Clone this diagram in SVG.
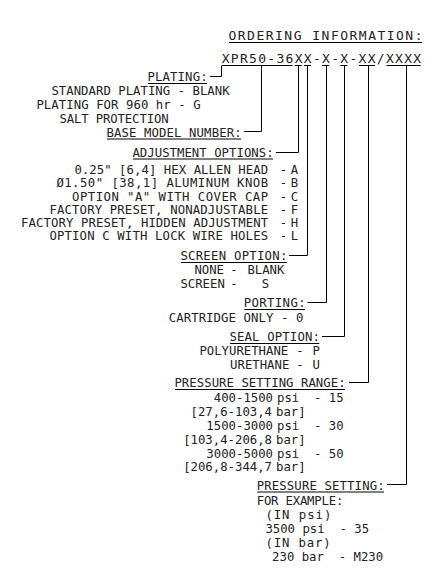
<svg xmlns="http://www.w3.org/2000/svg" width="448" height="586" viewBox="0 0 448 586" xml:space="preserve">
<style>
.t{font-family:"DejaVu Sans Mono","Liberation Mono",monospace;font-size:12.3px;fill:#222;white-space:pre}
.big{font-size:13px}
.m{text-anchor:middle}
.e{text-anchor:end}
.ln{stroke:#000;stroke-width:1;fill:none}
</style>
<rect width="448" height="586" fill="#fff"/>
<g id="title">
<text class="t big" x="228.5" y="39.5" textLength="194" lengthAdjust="spacing">ORDERING INFORMATION:</text>
<line class="ln" x1="229" y1="42.5" x2="422" y2="42.5"/>
</g>
<g id="model-code">
<text class="t big" x="221.7" y="63" style="letter-spacing:1.3px">XPR50-36XX-X-X-XX/XXXX</text>
<path class="ln" d="M222 65.5H292.6M294.7 65.5H301.7M303.8 65.5H310.8M322.1 65.5H329.1M340.3 65.5H347.4M359 65.5H375.1M386.4 65.5H420.7"/>
</g>
<g id="plating">
<text class="t" x="147.4" y="81" textLength="60.2" lengthAdjust="spacing">PLATING:</text>
<line class="ln" x1="148" y1="83.5" x2="207" y2="83.5"/>
<text class="t" x="51.4" y="95" textLength="178.2" lengthAdjust="spacing">STANDARD PLATING - BLANK</text>
<text class="t" x="36.4" y="108.5" textLength="164.2" lengthAdjust="spacing">PLATING FOR 960 hr - G</text>
<text class="t" x="59.4" y="122.5" textLength="109.2" lengthAdjust="spacing">SALT PROTECTION</text>
</g>
<g id="base-model">
<text class="t" x="106.4" y="136.5" textLength="135.2" lengthAdjust="spacing">BASE MODEL NUMBER:</text>
<line class="ln" x1="107" y1="139" x2="241" y2="139"/>
</g>
<g id="adjustment">
<text class="t" x="132.4" y="156.5" textLength="141.2" lengthAdjust="spacing">ADJUSTMENT OPTIONS:</text>
<line class="ln" x1="133" y1="159" x2="273" y2="159"/>
<text class="t" x="74.4" y="173.5" textLength="193.7" lengthAdjust="spacing">0.25" [6,4] HEX ALLEN HEAD</text>
<text class="t" x="56.4" y="187" textLength="211.7" lengthAdjust="spacing">Ø1.50" [38,1] ALUMINUM KNOB</text>
<text class="t" x="72.1" y="200.5" textLength="196" lengthAdjust="spacing">OPTION "A" WITH COVER CAP</text>
<text class="t" x="49.4" y="213.5" textLength="218.7" lengthAdjust="spacing">FACTORY PRESET, NONADJUSTABLE</text>
<text class="t" x="21.1" y="226.5" textLength="247" lengthAdjust="spacing">FACTORY PRESET, HIDDEN ADJUSTMENT</text>
<text class="t" x="49.4" y="239.5" textLength="218.7" lengthAdjust="spacing">OPTION C WITH LOCK WIRE HOLES</text>
<text class="t m" x="283.5" y="173.5">-</text><text class="t m" x="294.5" y="173.5">A</text>
<text class="t m" x="283.5" y="187">-</text><text class="t m" x="294.5" y="187">B</text>
<text class="t m" x="283.5" y="200.5">-</text><text class="t m" x="294.5" y="200.5">C</text>
<text class="t m" x="283.5" y="213.5">-</text><text class="t m" x="294.5" y="213.5">F</text>
<text class="t m" x="283.5" y="226.5">-</text><text class="t m" x="294.5" y="226.5">H</text>
<text class="t m" x="283.5" y="239.5">-</text><text class="t m" x="294.5" y="239.5">L</text>
</g>
<g id="screen">
<text class="t" x="180.4" y="260" textLength="106.9" lengthAdjust="spacing">SCREEN OPTION:</text>
<line class="ln" x1="181" y1="262.5" x2="286.7" y2="262.5"/>
<text class="t" x="194.4" y="273.5">NONE</text><text class="t m" x="234" y="273.5">-</text><text class="t" x="247.4" y="273.5">BLANK</text>
<text class="t" x="180.4" y="287.5">SCREEN</text><text class="t m" x="234" y="287.5">-</text><text class="t m" x="265.5" y="287.5">S</text>
</g>
<g id="porting">
<text class="t" x="243.7" y="307" textLength="61.9" lengthAdjust="spacing">PORTING:</text>
<line class="ln" x1="244.3" y1="309.5" x2="305" y2="309.5"/>
<text class="t" x="168.7" y="321.5" textLength="134.6" lengthAdjust="spacing">CARTRIDGE ONLY - 0</text>
</g>
<g id="seal">
<text class="t" x="229.4" y="341" textLength="90.5" lengthAdjust="spacing">SEAL OPTION:</text>
<line class="ln" x1="230" y1="343.5" x2="319.3" y2="343.5"/>
<text class="t" x="199.4" y="354.5">POLYURETHANE</text><text class="t m" x="300" y="354.5">-</text><text class="t m" x="316.3" y="354.5">P</text>
<text class="t" x="230.1" y="368.5">URETHANE</text><text class="t m" x="300" y="368.5">-</text><text class="t m" x="316.3" y="368.5">U</text>
</g>
<g id="pressure-range">
<text class="t" x="174.4" y="387" textLength="171.2" lengthAdjust="spacing">PRESSURE SETTING RANGE:</text>
<line class="ln" x1="175" y1="389.5" x2="345" y2="389.5"/>
<text class="t e" x="273" y="401.5">400-1500</text><text class="t" x="277" y="401.5">psi  - 15</text>
<text class="t e" x="272" y="415.5">[27,6-103,4</text><text class="t" x="276" y="415.5">bar]</text>
<text class="t e" x="273" y="429.5">1500-3000</text><text class="t" x="277" y="429.5">psi  - 30</text>
<text class="t e" x="272" y="443.5">[103,4-206,8</text><text class="t" x="276" y="443.5">bar]</text>
<text class="t e" x="273" y="457.5">3000-5000</text><text class="t" x="277" y="457.5">psi  - 50</text>
<text class="t e" x="272" y="470.5">[206,8-344,7</text><text class="t" x="276" y="470.5">bar]</text>
</g>
<g id="pressure-setting">
<text class="t" x="256.7" y="489.5" textLength="127.9" lengthAdjust="spacing">PRESSURE SETTING:</text>
<line class="ln" x1="257.3" y1="492" x2="384" y2="492"/>
<text class="t" x="256.7" y="504.5" textLength="86.6" lengthAdjust="spacing">FOR EXAMPLE:</text>
<text class="t" x="265.4" y="518.5" textLength="65.9" lengthAdjust="spacing">(IN psi)</text>
<text class="t" x="265.4" y="533">3500 psi  - 35</text>
<text class="t" x="265.4" y="546.5" textLength="65.2" lengthAdjust="spacing">(IN bar)</text>
<text class="t" x="272.1" y="561">230 bar  - M230</text>
</g>
<g id="connectors">
<path class="ln" d="M210 76.5H221.5V65.5"/>
<path class="ln" d="M244 131.5H261.5V65.5"/>
<path class="ln" d="M276 152.5H298.5V65.5"/>
<path class="ln" d="M289 255.5H307.5V65.5"/>
<path class="ln" d="M307.5 302.5H326.5V65.5"/>
<path class="ln" d="M322 336.5H344.5V65.5"/>
<path class="ln" d="M349 382.5H368.5V65.5"/>
<path class="ln" d="M387 484.5H406.5V65.5"/>
</g>
</svg>
